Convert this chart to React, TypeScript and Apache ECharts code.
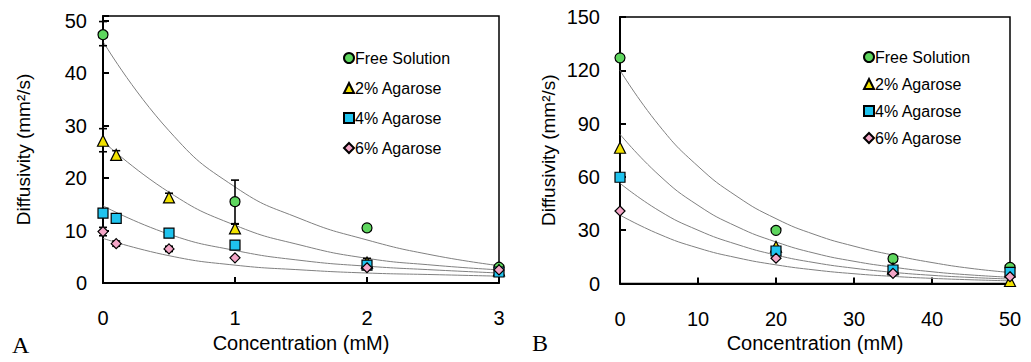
import React, { useEffect, useRef } from "react";
import * as echarts from "echarts";

const SERIES_NAMES = ["Free Solution", "2% Agarose", "4% Agarose", "6% Agarose"];
const COLORS = ["#5ED65E", "#F2E200", "#1FC3EE", "#F4A6C7"];
const SYMBOLS = ["circle", "triangle", "rect", "diamond"];
const SYMBOL_SIZES = [10, 11, 10, 10];

// Panel A (0–3 mM)
const A_FREE_X = [0, 1, 2, 3];
const A_FREE_Y = [47.3, 15.5, 10.5, 3.0];
const A_X = [0, 0.1, 0.5, 1, 2, 3];
const A_AG2 = [27.1, 24.4, 16.3, 10.4, 3.9, 2.4];
const A_AG4 = [13.3, 12.3, 9.5, 7.2, 3.4, 2.1];
const A_AG6 = [9.8, 7.5, 6.5, 4.8, 2.9, 2.5];
const A_ERR = [
  [0, 45.2, 49.8],
  [1, 11.2, 19.6],
  [0, 25.0, 29.4],
  [0.1, 23.6, 25.2],
  [0.5, 15.5, 17.1],
  [1, 9.6, 11.3],
  [2, 3.4, 4.7],
  [0, 9.0, 10.6],
  [0.1, 7.0, 8.0],
  [0.5, 6.0, 7.0],
];
const A_FIT_X = [0, 0.5, 1, 1.5, 2, 2.5, 3];
const A_FIT_FREE = [46, 29, 18.3, 12.2, 8.2, 5.3, 3.3];
const A_FIT_AG2 = [27, 17.3, 11, 7.2, 4.7, 3.4, 2.5];
const A_FIT_AG4 = [14.7, 9.3, 6.2, 4.3, 3.2, 2.5, 1.9];
const A_FIT_AG6 = [8.5, 5.2, 3.4, 2.5, 1.9, 1.6, 1.3];

// Panel B (0–50 mM)
const B_X = [0, 20, 35, 50];
const B_FREE = [127, 29.9, 14, 9.1];
const B_AG2 = [76.4, 20.7, 8.5, 1.4];
const B_AG4 = [59.8, 18.3, 7.6, 6.3];
const B_AG6 = [40.8, 14.2, 5.7, 3.8];
const B_FIT_X = [0, 5, 10, 15, 20, 25, 30, 35, 40, 45, 50];
const B_FIT_FREE = [120, 89, 66, 49, 36.5, 27.5, 21, 16, 11.8, 8.5, 6.2];
const B_FIT_AG2 = [84, 61, 44, 32, 23.4, 17, 12.5, 9.2, 6.6, 4.8, 3.5];
const B_FIT_AG4 = [56.4, 41, 30, 22, 16, 11.7, 8.6, 6.3, 4.6, 3.4, 2.5];
const B_FIT_AG6 = [38.5, 27.8, 20, 14.5, 10.5, 7.6, 5.5, 4, 2.9, 2.1, 1.5];

const A_X_TICKS = ["0", "1", "2", "3"];
const B_X_TICKS = ["0", "10", "20", "30", "40", "50"];

const FONT = "Liberation Sans, Arial, Helvetica, sans-serif";

function zip(xs: number[], ys: number[]) {
  return xs.map((x, i) => [x, ys[i]]);
}

function errorSeries(data: number[][], idx: number) {
  return {
    type: "custom",
    xAxisIndex: idx,
    yAxisIndex: idx,
    z: 2,
    silent: true,
    encode: { x: 0, y: [1, 2] },
    data,
    renderItem: (params: any, api: any) => {
      const x = api.value(0);
      const lo = api.coord([x, api.value(1)]);
      const hi = api.coord([x, api.value(2)]);
      const w = 4;
      const style = { stroke: "#000", lineWidth: 1.6 };
      return {
        type: "group",
        children: [
          { type: "line", shape: { x1: lo[0], y1: lo[1], x2: hi[0], y2: hi[1] }, style },
          { type: "line", shape: { x1: hi[0] - w, y1: hi[1], x2: hi[0] + w, y2: hi[1] }, style },
          { type: "line", shape: { x1: lo[0] - w, y1: lo[1], x2: lo[0] + w, y2: lo[1] }, style },
        ],
      };
    },
  };
}

function fitSeries(name: string, xs: number[], ys: number[], idx: number) {
  return {
    name,
    type: "line",
    xAxisIndex: idx,
    yAxisIndex: idx,
    data: zip(xs, ys),
    smooth: true,
    showSymbol: false,
    symbol: "none",
    silent: true,
    z: 1,
    lineStyle: { color: "#808080", width: 1 },
  };
}

function scatterSeries(i: number, data: number[][], idx: number) {
  return {
    name: SERIES_NAMES[i],
    type: "scatter",
    xAxisIndex: idx,
    yAxisIndex: idx,
    data,
    symbol: SYMBOLS[i],
    symbolSize: SYMBOL_SIZES[i],
    z: 3 + i,
    itemStyle: { color: COLORS[i], borderColor: "#000", borderWidth: 1.2, opacity: 1 },
  };
}

function legend(left: number, top: number, gap: number) {
  return {
    orient: "vertical",
    left,
    top,
    itemGap: gap,
    itemWidth: 10,
    itemHeight: 10,
    selectedMode: false,
    textStyle: { fontSize: 16, color: "#000", fontFamily: FONT, padding: [0, 0, 0, -4] },
    data: SERIES_NAMES.map((n, i) => ({ name: n, icon: SYMBOLS[i] })),
  };
}

export default function App() {
  const ref = useRef<HTMLDivElement>(null);

  useEffect(() => {
    document.body.style.margin = "0";
    if (!ref.current) return;
    const chart = echarts.init(ref.current, undefined, { renderer: "svg" });

    const axisLine = { show: true, lineStyle: { color: "#000", width: 2 } };
    const tick = { show: true, inside: true, length: 6, lineStyle: { color: "#000", width: 2 } };
    const labelStyle = { color: "#000", fontSize: 20, fontFamily: FONT };
    const xNameStyle = { color: "#000", fontSize: 20, fontFamily: FONT };
    const yNameStyle = { color: "#000", fontSize: 19, fontFamily: FONT };

    const option: any = {
      animation: false,
      textStyle: { fontFamily: FONT },
      grid: [
        { left: 103, top: 16, width: 396, height: 267, show: true, borderColor: "#000", borderWidth: 1.5, backgroundColor: "transparent" },
        { left: 620, top: 17, width: 390, height: 266.5, show: true, borderColor: "#000", borderWidth: 1.5, backgroundColor: "transparent" },
      ],
      xAxis: [
        {
          gridIndex: 0,
          type: "value",
          min: 0,
          max: 3,
          interval: 1,
          axisLine,
          axisTick: tick,
          splitLine: { show: false },
          axisLabel: { ...labelStyle, margin: 25, formatter: (v: number) => A_X_TICKS[v] ?? "" },
          name: "Concentration (mM)",
          nameLocation: "middle",
          nameGap: 43,
          nameTextStyle: xNameStyle,
        },
        {
          gridIndex: 1,
          type: "value",
          min: 0,
          max: 50,
          interval: 10,
          axisLine,
          axisTick: tick,
          splitLine: { show: false },
          axisLabel: { ...labelStyle, margin: 25, formatter: (v: number) => B_X_TICKS[v / 10] ?? "" },
          name: "Concentration (mM)",
          nameLocation: "middle",
          nameGap: 43,
          nameTextStyle: xNameStyle,
        },
      ],
      yAxis: [
        {
          gridIndex: 0,
          type: "value",
          min: 0,
          max: 50.86,
          interval: 10,
          axisLine,
          axisTick: tick,
          splitLine: { show: false },
          axisLabel: { ...labelStyle, margin: 16, formatter: (v: number) => (v % 10 === 0 ? String(v) : "") },
          name: "Diffusivity (mm²/s)",
          nameLocation: "middle",
          nameGap: 70,
          nameTextStyle: yNameStyle,
        },
        {
          gridIndex: 1,
          type: "value",
          min: 0,
          max: 150,
          interval: 30,
          axisLine,
          axisTick: tick,
          splitLine: { show: false },
          axisLabel: { ...labelStyle, margin: 20, formatter: (v: number) => (v % 30 === 0 ? String(v) : "") },
          name: "Diffusivity (mm²/s)",
          nameLocation: "middle",
          nameGap: 62,
          nameTextStyle: yNameStyle,
        },
      ],
      legend: [legend(338, 45, 14), legend(858, 44, 11)],
      graphic: [
        { type: "text", left: 12, top: 333, style: { text: "A", font: "24px 'Liberation Serif', 'Times New Roman', serif", fill: "#000" } },
        { type: "text", left: 532, top: 331, style: { text: "B", font: "24px 'Liberation Serif', 'Times New Roman', serif", fill: "#000" } },
      ],
      series: [
        fitSeries("fitA0", A_FIT_X, A_FIT_FREE, 0),
        fitSeries("fitA1", A_FIT_X, A_FIT_AG2, 0),
        fitSeries("fitA2", A_FIT_X, A_FIT_AG4, 0),
        fitSeries("fitA3", A_FIT_X, A_FIT_AG6, 0),
        fitSeries("fitB0", B_FIT_X, B_FIT_FREE, 1),
        fitSeries("fitB1", B_FIT_X, B_FIT_AG2, 1),
        fitSeries("fitB2", B_FIT_X, B_FIT_AG4, 1),
        fitSeries("fitB3", B_FIT_X, B_FIT_AG6, 1),
        errorSeries(A_ERR, 0),
        scatterSeries(0, zip(A_FREE_X, A_FREE_Y), 0),
        scatterSeries(1, zip(A_X, A_AG2), 0),
        scatterSeries(2, zip(A_X, A_AG4), 0),
        scatterSeries(3, zip(A_X, A_AG6), 0),
        scatterSeries(0, zip(B_X, B_FREE), 1),
        scatterSeries(1, zip(B_X, B_AG2), 1),
        scatterSeries(2, zip(B_X, B_AG4), 1),
        scatterSeries(3, zip(B_X, B_AG6), 1),
      ],
    };

    chart.setOption(option);
    return () => chart.dispose();
  }, []);

  return <div ref={ref} style={{ width: 1031, height: 362 }} />;
}
